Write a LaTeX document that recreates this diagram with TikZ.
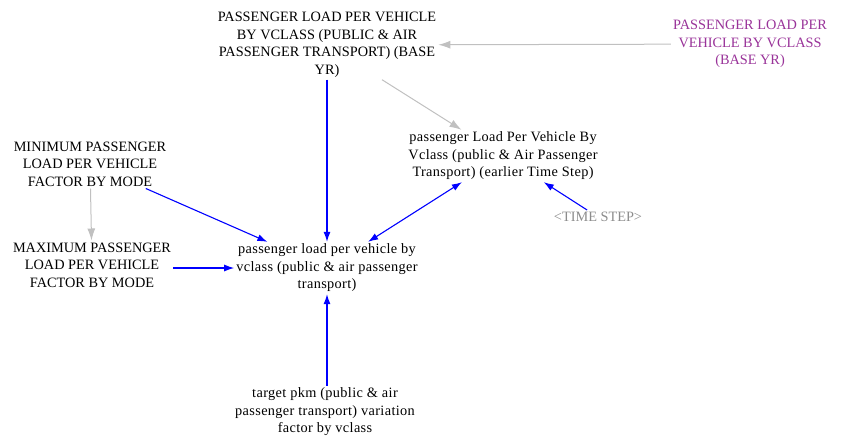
\documentclass[tikz,border=0pt]{standalone}
\usepackage{fontspec}
\setmainfont{Liberation Serif}
\newfontfamily\lowfont[LetterSpace=2.5]{Liberation Serif}
\usetikzlibrary{arrows.meta}
\definecolor{vblue}{HTML}{0000FF}
\definecolor{vgrey}{HTML}{C0C0C0}
\definecolor{vshadow}{HTML}{8C8C8C}
\definecolor{vpurple}{HTML}{993399}
\tikzstyle{var}=[align=center, inner sep=2pt, font=\fontsize{14.3}{17.5}\selectfont]
\tikzstyle{lowvar}=[var, font=\lowfont\fontsize{14.3}{17.5}\selectfont]
\tikzstyle{link}=[draw=vblue, line width=1.1pt, -{Latex[length=10pt, width=7pt]}]
\tikzstyle{glink}=[draw=vgrey, line width=1pt, -{Latex[length=12pt, width=8pt]}]

\begin{document}
\begin{tikzpicture}[x=1pt, y=-1pt]

\useasboundingbox (0, 0) rectangle (843, 436);

\node [var] (base) at (327, 45) {PASSENGER LOAD PER VEHICLE\\BY VCLASS (PUBLIC \& AIR\\PASSENGER TRANSPORT) (BASE\\YR)};
\node [var, text=vpurple] (basev) at (750, 44) {PASSENGER LOAD PER\\VEHICLE BY VCLASS\\(BASE YR)};
\node [lowvar] (early) at (503, 156) {passenger Load Per Vehicle By\\Vclass (public \& Air Passenger\\Transport) (earlier Time Step)};
\node [var, text=vshadow] (tstep) at (598, 217) {<TIME STEP>};

\node [var] (minf) at (90, 164) {MINIMUM PASSENGER\\LOAD PER VEHICLE\\FACTOR BY MODE};
\node [var] (maxf) at (92, 265) {MAXIMUM PASSENGER\\LOAD PER VEHICLE\\FACTOR BY MODE};

\node [lowvar] (load) at (327, 268) {passenger load per vehicle by\\vclass (public \& air passenger\\transport)};
\node [lowvar] (target) at (325, 412) {target pkm (public \& air\\passenger transport) variation\\factor by vclass};

\draw [glink] (basev) -- (base);
\draw [glink] (base) -- (early);
\draw [glink] (minf) -- (maxf);

\draw [link] (tstep) -- (early);
\draw [link] (base) -- (load);
\draw [link] (minf) -- (load);
\draw [link] (maxf.east |- load) -- (load);
\draw [link, {Latex[length=10pt, width=7pt]}-{Latex[length=10pt, width=7pt]}] (early) -- (load);
\draw [link] (target.north -| load) -- (load);

\end{tikzpicture}
\end{document}
